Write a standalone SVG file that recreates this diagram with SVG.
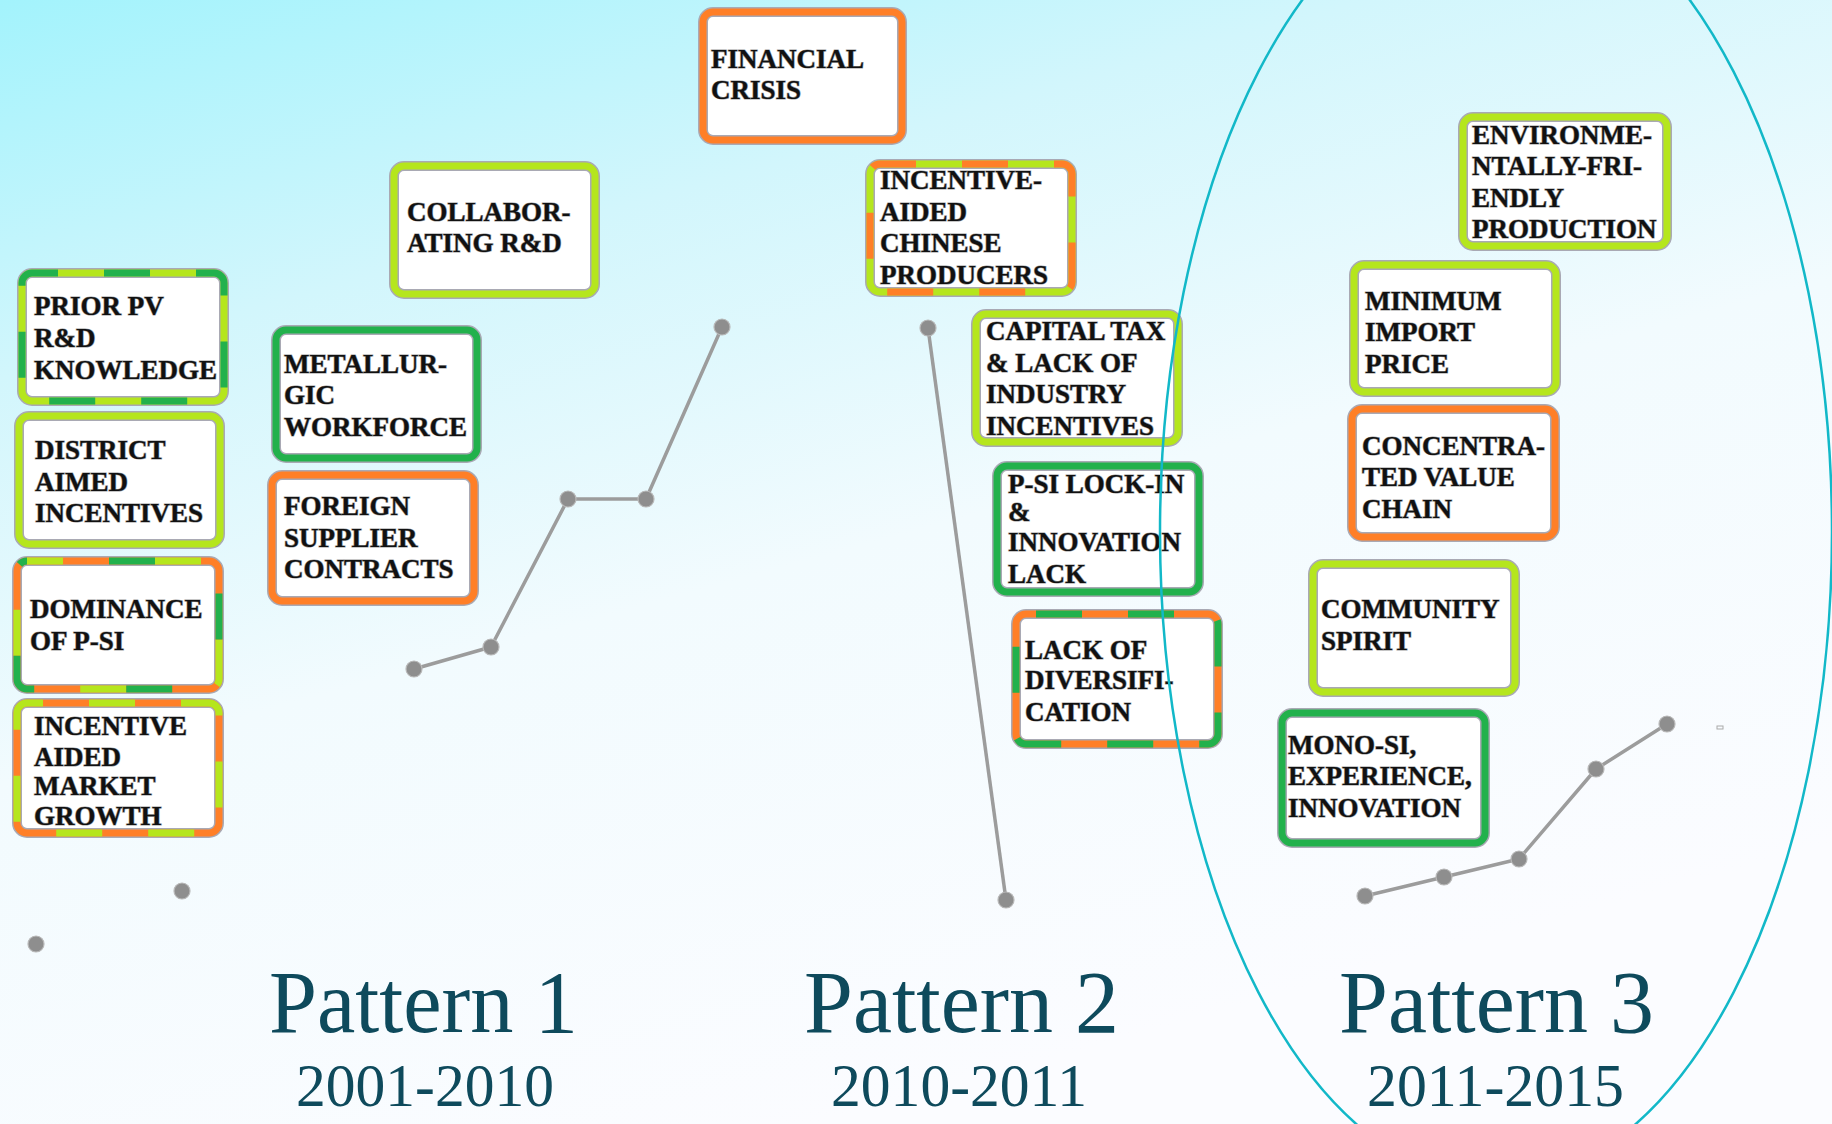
<svg xmlns="http://www.w3.org/2000/svg" width="1832" height="1124" viewBox="0 0 1832 1124">
<defs>
<linearGradient id="bg" x1="0" y1="0" x2="0.45" y2="1">
<stop offset="0" stop-color="#a3f3fc"/>
<stop offset="0.28" stop-color="#d2f6fc"/>
<stop offset="0.58" stop-color="#f2fbfe"/>
<stop offset="1" stop-color="#fbfcff"/>
</linearGradient>
<style>
.halo{fill:#ffffff;stroke:#a9a9b4;stroke-width:10}
.bd{fill:none;stroke-width:7}
.lime{stroke:#b5e61d}
.green{stroke:#22b14c}
.orange{stroke:#ff7f27}
.dash{stroke-dasharray:46 46}
.dash3{stroke-dasharray:46 92}
.lbl{font-family:"Liberation Serif","Times New Roman",serif;font-weight:bold;font-size:27px;fill:#111;stroke:#9a9a9a;stroke-width:1.2;paint-order:stroke}
.pat{font-family:"Liberation Serif","Times New Roman",serif;fill:#0e4a5c}
.conn{fill:none;stroke:#9c9c9c;stroke-width:3.5;stroke-linejoin:round}
.dot{fill:#8e8e8e;stroke:#b8b8b8;stroke-width:1.2}
</style>
</defs>
<rect width="1832" height="1124" fill="url(#bg)"/>

<g id="connectors">
<polyline class="conn" points="414,669 491,647 568,499 646,499 722,327"/>
<line class="conn" x1="928" y1="328" x2="1006" y2="900"/>
<polyline class="conn" points="1365,896 1444,877 1519,859 1596,769 1667,724"/>
<circle class="dot" cx="414" cy="669" r="8"/>
<circle class="dot" cx="491" cy="647" r="8"/>
<circle class="dot" cx="568" cy="499" r="8"/>
<circle class="dot" cx="646" cy="499" r="8"/>
<circle class="dot" cx="722" cy="327" r="8"/>
<circle class="dot" cx="182" cy="891" r="8"/>
<circle class="dot" cx="36" cy="944" r="8"/>
<circle class="dot" cx="928" cy="328" r="8"/>
<circle class="dot" cx="1006" cy="900" r="8"/>
<circle class="dot" cx="1365" cy="896" r="8"/>
<circle class="dot" cx="1444" cy="877" r="8"/>
<circle class="dot" cx="1519" cy="859" r="8"/>
<circle class="dot" cx="1596" cy="769" r="8"/>
<circle class="dot" cx="1667" cy="724" r="8"/>
<rect x="1717" y="726" width="6" height="3" fill="none" stroke="#aaa" stroke-width="1"/>
</g>

<g id="n-financial">
<rect class="halo" x="703" y="12" width="199" height="128" rx="10"/>
<rect class="bd orange" x="703" y="12" width="199" height="128" rx="10"/>
<text class="lbl"><tspan x="711" y="68">FINANCIAL</tspan><tspan x="711" y="99">CRISIS</tspan></text>
</g>

<g id="n-collab">
<rect class="halo" x="394" y="166" width="201" height="128" rx="10"/>
<rect class="bd lime" x="394" y="166" width="201" height="128" rx="10"/>
<text class="lbl"><tspan x="407" y="221">COLLABOR-</tspan><tspan x="407" y="252">ATING R&amp;D</tspan></text>
</g>

<g id="n-prior">
<rect class="halo" x="22" y="273" width="202" height="128" rx="10"/>
<rect class="bd lime" x="22" y="273" width="202" height="128" rx="10"/>
<rect class="bd green dash" x="22" y="273" width="202" height="128" rx="10" stroke-dashoffset="20"/>
<text class="lbl"><tspan x="34" y="315">PRIOR PV</tspan><tspan x="34" y="347">R&amp;D</tspan><tspan x="34" y="379">KNOWLEDGE</tspan></text>
</g>

<g id="n-district">
<rect class="halo" x="19" y="416" width="201" height="128" rx="10"/>
<rect class="bd lime" x="19" y="416" width="201" height="128" rx="10"/>
<text class="lbl"><tspan x="35" y="459">DISTRICT</tspan><tspan x="35" y="491">AIMED</tspan><tspan x="35" y="522">INCENTIVES</tspan></text>
</g>

<g id="n-dominance">
<rect class="halo" x="17" y="561" width="202" height="128" rx="10"/>
<rect class="bd orange" x="17" y="561" width="202" height="128" rx="10"/>
<rect class="bd lime dash3" x="17" y="561" width="202" height="128" rx="10" stroke-dashoffset="10"/>
<rect class="bd green dash3" x="17" y="561" width="202" height="128" rx="10" stroke-dashoffset="56"/>
<text class="lbl"><tspan x="30" y="618">DOMINANCE</tspan><tspan x="30" y="650">OF P-SI</tspan></text>
</g>

<g id="n-market">
<rect class="halo" x="17" y="703" width="202" height="130" rx="10"/>
<rect class="bd orange" x="17" y="703" width="202" height="130" rx="10"/>
<rect class="bd lime dash" x="17" y="703" width="202" height="130" rx="10" stroke-dashoffset="30"/>
<text class="lbl"><tspan x="34" y="735">INCENTIVE</tspan><tspan x="34" y="766">AIDED</tspan><tspan x="34" y="795">MARKET</tspan><tspan x="34" y="825">GROWTH</tspan></text>
</g>

<g id="n-metallurgic">
<rect class="halo" x="276" y="330" width="201" height="128" rx="10"/>
<rect class="bd green" x="276" y="330" width="201" height="128" rx="10"/>
<text class="lbl"><tspan x="284" y="373">METALLUR-</tspan><tspan x="284" y="404">GIC</tspan><tspan x="284" y="436">WORKFORCE</tspan></text>
</g>

<g id="n-foreign">
<rect class="halo" x="272" y="475" width="202" height="126" rx="10"/>
<rect class="bd orange" x="272" y="475" width="202" height="126" rx="10"/>
<text class="lbl"><tspan x="284" y="515">FOREIGN</tspan><tspan x="284" y="547">SUPPLIER</tspan><tspan x="284" y="578">CONTRACTS</tspan></text>
</g>

<g id="n-chinese">
<rect class="halo" x="870" y="164" width="202" height="128" rx="10"/>
<rect class="bd lime" x="870" y="164" width="202" height="128" rx="10"/>
<rect class="bd orange dash" x="870" y="164" width="202" height="128" rx="10" stroke-dashoffset="10"/>
<text class="lbl"><tspan x="880" y="189">INCENTIVE-</tspan><tspan x="880" y="221">AIDED</tspan><tspan x="880" y="252">CHINESE</tspan><tspan x="880" y="284">PRODUCERS</tspan></text>
</g>

<g id="n-capital">
<rect class="halo" x="976" y="314" width="202" height="128" rx="10"/>
<rect class="bd lime" x="976" y="314" width="202" height="128" rx="10"/>
<text class="lbl"><tspan x="986" y="340">CAPITAL TAX</tspan><tspan x="986" y="372">&amp; LACK OF</tspan><tspan x="986" y="403">INDUSTRY</tspan><tspan x="986" y="435">INCENTIVES</tspan></text>
</g>

<g id="n-psi">
<rect class="halo" x="997" y="466" width="202" height="126" rx="10"/>
<rect class="bd green" x="997" y="466" width="202" height="126" rx="10"/>
<text class="lbl"><tspan x="1008" y="493">P-SI LOCK-IN</tspan><tspan x="1008" y="521">&amp;</tspan><tspan x="1008" y="551">INNOVATION</tspan><tspan x="1008" y="583">LACK</tspan></text>
</g>

<g id="n-diversification">
<rect class="halo" x="1016" y="614" width="202" height="130" rx="10"/>
<rect class="bd orange" x="1016" y="614" width="202" height="130" rx="10"/>
<rect class="bd green dash" x="1016" y="614" width="202" height="130" rx="10" stroke-dashoffset="-10"/>
<text class="lbl"><tspan x="1025" y="659">LACK OF</tspan><tspan x="1025" y="689">DIVERSIFI-</tspan><tspan x="1025" y="721">CATION</tspan></text>
</g>

<g id="n-environ">
<rect class="halo" x="1463" y="117" width="204" height="129" rx="10"/>
<rect class="bd lime" x="1463" y="117" width="204" height="129" rx="10"/>
<text class="lbl"><tspan x="1472" y="144">ENVIRONME-</tspan><tspan x="1472" y="175">NTALLY-FRI-</tspan><tspan x="1472" y="207">ENDLY</tspan><tspan x="1472" y="238">PRODUCTION</tspan></text>
</g>

<g id="n-minimum">
<rect class="halo" x="1354" y="265" width="202" height="127" rx="10"/>
<rect class="bd lime" x="1354" y="265" width="202" height="127" rx="10"/>
<text class="lbl"><tspan x="1365" y="310">MINIMUM</tspan><tspan x="1365" y="341">IMPORT</tspan><tspan x="1365" y="373">PRICE</tspan></text>
</g>

<g id="n-concentrated">
<rect class="halo" x="1352" y="409" width="203" height="128" rx="10"/>
<rect class="bd orange" x="1352" y="409" width="203" height="128" rx="10"/>
<text class="lbl"><tspan x="1362" y="455">CONCENTRA-</tspan><tspan x="1362" y="486">TED VALUE</tspan><tspan x="1362" y="518">CHAIN</tspan></text>
</g>

<g id="n-community">
<rect class="halo" x="1313" y="564" width="202" height="128" rx="10"/>
<rect class="bd lime" x="1313" y="564" width="202" height="128" rx="10"/>
<text class="lbl"><tspan x="1321" y="618">COMMUNITY</tspan><tspan x="1321" y="650">SPIRIT</tspan></text>
</g>

<g id="n-mono">
<rect class="halo" x="1282" y="713" width="203" height="130" rx="10"/>
<rect class="bd green" x="1282" y="713" width="203" height="130" rx="10"/>
<text class="lbl"><tspan x="1288" y="754">MONO-SI,</tspan><tspan x="1288" y="785">EXPERIENCE,</tspan><tspan x="1288" y="817">INNOVATION</tspan></text>
</g>

<ellipse id="pattern3-outline" cx="1496" cy="532" rx="336" ry="651" fill="none" stroke="#12b8c8" stroke-width="2.5"/>

<g id="labels">
<text class="pat" x="269" y="1032" font-size="88" textLength="309" lengthAdjust="spacingAndGlyphs">Pattern 1</text>
<text class="pat" x="804" y="1032" font-size="88" textLength="315" lengthAdjust="spacingAndGlyphs">Pattern 2</text>
<text class="pat" x="1339" y="1032" font-size="88" textLength="315" lengthAdjust="spacingAndGlyphs">Pattern 3</text>
<text class="pat" x="296" y="1106" font-size="62" textLength="258" lengthAdjust="spacingAndGlyphs">2001-2010</text>
<text class="pat" x="831" y="1106" font-size="62" textLength="256" lengthAdjust="spacingAndGlyphs">2010-2011</text>
<text class="pat" x="1367" y="1106" font-size="62" textLength="257" lengthAdjust="spacingAndGlyphs">2011-2015</text>
</g>
</svg>
